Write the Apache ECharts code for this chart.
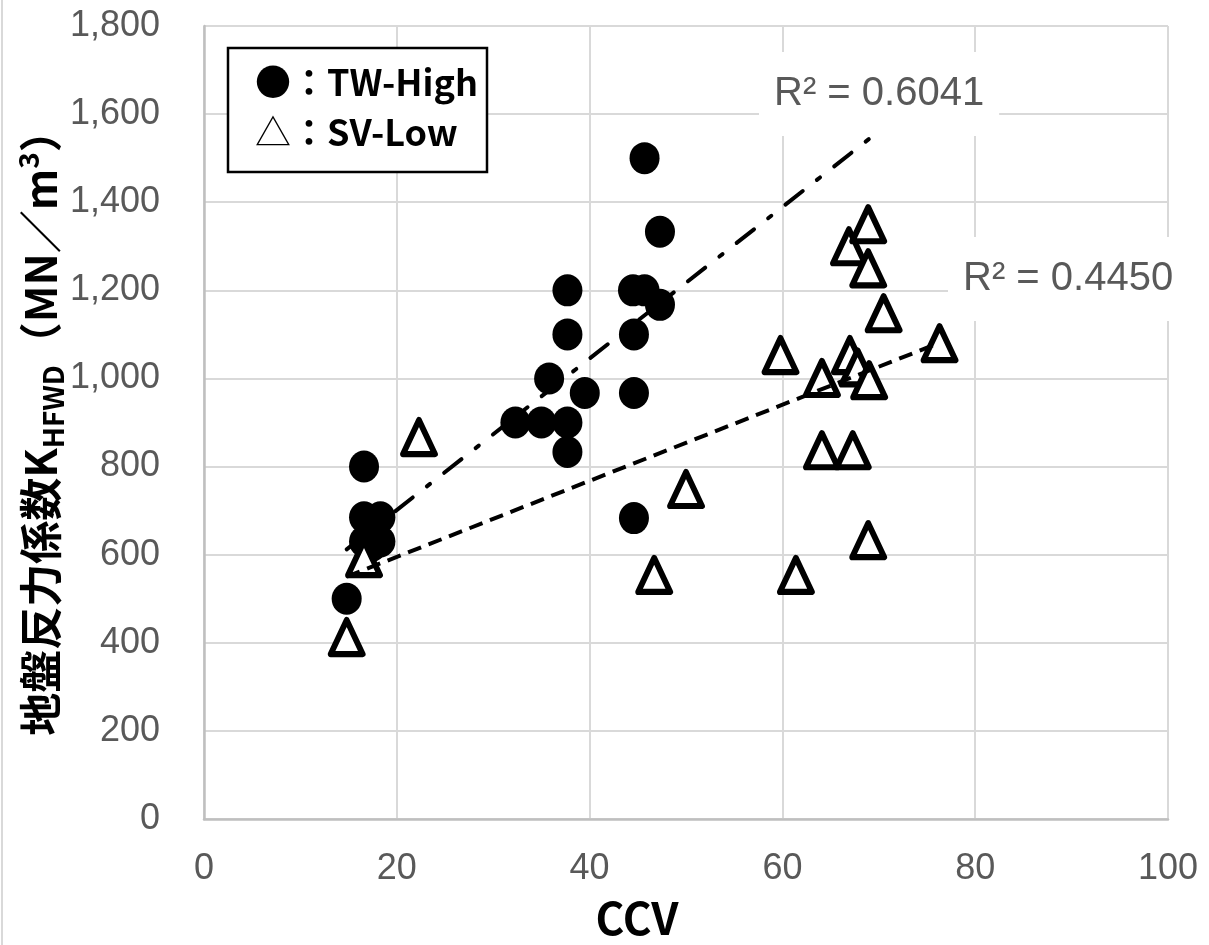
<!DOCTYPE html>
<html>
<head>
<meta charset="utf-8">
<script src="https://cdn.jsdelivr.net/npm/echarts@6.0.0/dist/echarts.min.js"></script>
<style>
html, body { margin: 0; padding: 0; background: #fff; }
#view { width: 1209px; height: 945px; }
</style>
</head>
<body>
<div id="view"></div>
<script>
// TW-High (filled circles)
const twCCV = [14.8, 16.6, 16.6, 18.3, 16.6, 18.3, 17.4, 32.3, 35.0, 37.7, 35.8, 39.5,
  37.7, 37.7, 37.7, 44.5, 45.7, 47.3, 44.6, 44.6, 44.6, 45.7, 47.3];
const twK = [500, 800, 685, 685, 630, 630, 620, 900, 900, 900, 1000, 967,
  833, 1100, 1200, 1200, 1200, 1167, 1100, 967, 683, 1500, 1333];

// SV-Low (open triangles)
const svCCV = [14.8, 16.6, 22.3, 50.0, 46.7, 59.8, 61.4, 64.1, 64.1, 67.0, 67.8, 67.3,
  66.9, 68.9, 68.9, 69.0, 70.5, 68.9, 76.3];
const svK = [413, 592, 867, 749, 554, 1053, 554, 1001, 837, 1053, 1025, 837,
  1300, 1350, 1250, 996, 1148, 633, 1080];

// trend lines (end points)
const twTrend = [[14.8, 612], [75, 1647]];
const svTrend = [[14.8, 550], [76.3, 1081]];

const r2Labels = ["R² = 0.6041", "R² = 0.4450"];
const xTicks = { min: 0, max: 100, interval: 20 };
const yTicks = { min: 0, max: 1800, interval: 200 };

const zip = (xs, ys) => xs.map((x, i) => [x, ys[i]]);

const tickFont = "'Liberation Sans', Arial, sans-serif";
const cjkFont = "'Noto Sans CJK JP', 'Noto Sans', sans-serif";

const myChart = echarts.init(document.getElementById("view"));

const option = {
  animation: false,
  backgroundColor: "#ffffff",
  grid: { left: 204, right: 41, top: 26, bottom: 126, containLabel: false, outerBoundsMode: "none" },
  xAxis: {
    type: "value",
    min: xTicks.min,
    max: xTicks.max,
    interval: xTicks.interval,
    name: "CCV",
    nameLocation: "middle",
    nameGap: 77,
    nameMoveOverlap: false,
    nameTextStyle: {
      fontFamily: cjkFont,
      fontWeight: "bold",
      fontSize: 44,
      lineHeight: 44,
      color: "#000",
      padding: [0, 98, 0, 0],
    },
    axisLine: { lineStyle: { color: "#bfbfbf", width: 2.5 } },
    axisTick: { show: false },
    axisLabel: { margin: 32, fontFamily: tickFont, fontSize: 36, color: "#595959" },
    splitLine: { lineStyle: { color: "#d9d9d9", width: 2 } },
  },
  yAxis: {
    type: "value",
    min: yTicks.min,
    max: yTicks.max,
    interval: yTicks.interval,
    name: "{m|地盤反力係数K}{s|HFWD}{m|（MN／m}{p|3}{m|）}",
    nameLocation: "middle",
    nameGap: 137,
    nameMoveOverlap: false,
    nameTextStyle: {
      rich: {
        m: { fontFamily: cjkFont, fontWeight: "bold", fontSize: 43, color: "#000", lineHeight: 53 },
        s: { fontFamily: cjkFont, fontWeight: "bold", fontSize: 28, color: "#000", lineHeight: 28, verticalAlign: "bottom" },
        p: { fontFamily: cjkFont, fontWeight: "bold", fontSize: 28, color: "#000", lineHeight: 28, verticalAlign: "top" },
      },
    },
    axisLine: { show: true, lineStyle: { color: "#bfbfbf", width: 2.5 } },
    axisTick: { show: false },
    axisLabel: {
      margin: 44,
      fontFamily: tickFont,
      fontSize: 36,
      color: "#595959",
      formatter: (v) => v.toLocaleString("en-US"),
    },
    splitLine: { lineStyle: { color: "#d9d9d9", width: 2 } },
  },
  series: [
    {
      name: "TW-High",
      type: "scatter",
      data: zip(twCCV, twK),
      symbol: "circle",
      symbolSize: [30, 32],
      itemStyle: { color: "#000", opacity: 1 },
      z: 3,
    },
    {
      name: "SV-Low",
      type: "scatter",
      data: zip(svCCV, svK),
      symbol: "triangle",
      symbolSize: [32, 34],
      itemStyle: { color: "#fff", borderColor: "#000", borderWidth: 6, borderJoin: "round", opacity: 1 },
      z: 3,
    },
    {
      name: "TW trend",
      type: "line",
      data: twTrend,
      showSymbol: false,
      symbol: "none",
      silent: true,
      lineStyle: { color: "#000", width: 4, type: [22, 18, 4, 18], cap: "round" },
      z: 4,
    },
    {
      name: "SV trend",
      type: "line",
      data: svTrend,
      showSymbol: false,
      symbol: "none",
      silent: true,
      lineStyle: { color: "#000", width: 4, type: [14, 8] },
      z: 4,
    },
  ],
  graphic: [
    {
      type: "line",
      shape: { x1: 2, y1: 0, x2: 2, y2: 945 },
      style: { stroke: "#d9d9d9", lineWidth: 2 },
    },
    {
      type: "rect",
      z: 100,
      shape: { x: 228, y: 48, width: 259, height: 124 },
      style: { fill: "#fff", stroke: "#000", lineWidth: 2.5 },
    },
    {
      type: "text",
      z: 101,
      left: 255,
      top: 64,
      style: {
        text: "{b|●：TW-High}\n{t|△}{b|：SV-Low}",
        rich: {
          b: { fontFamily: cjkFont, fontWeight: "bold", fontSize: 36, lineHeight: 50, fill: "#000" },
          t: { fontFamily: cjkFont, fontWeight: "normal", fontSize: 36, lineHeight: 50, fill: "#000" },
        },
      },
    },
    {
      type: "text",
      z: 100,
      left: 759,
      top: 52,
      style: {
        text: r2Labels[0],
        fontFamily: tickFont,
        fontSize: 40,
        fill: "#595959",
        backgroundColor: "#fff",
        padding: [22, 15, 22, 15],
      },
    },
    {
      type: "text",
      z: 100,
      left: 948,
      top: 237,
      style: {
        text: r2Labels[1],
        fontFamily: tickFont,
        fontSize: 40,
        fill: "#595959",
        backgroundColor: "#fff",
        padding: [22, 15, 22, 15],
      },
    },
  ],
};

myChart.setOption(option);
</script>
</body>
</html>
